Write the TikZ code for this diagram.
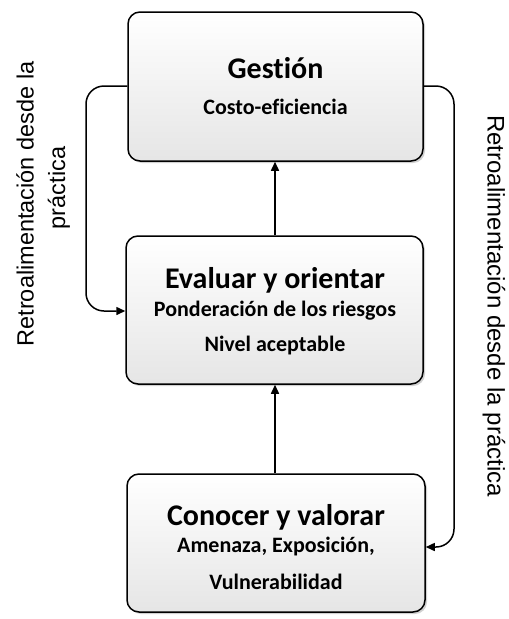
\documentclass[tikz,border=0pt]{standalone}
\usepackage{fontspec}
\setmainfont[Ligatures=NoCommon]{Carlito}
\newfontfamily\notefont{Liberation Sans}
\usetikzlibrary{arrows.meta,shadows}
\begin{document}
\begin{tikzpicture}[x=1pt,y=-1pt,
  stage/.style={draw=black,line width=1.5pt,rounded corners=12pt,
    top color=white,bottom color=black!10,
    drop shadow={shadow xshift=2pt,shadow yshift=-2pt,opacity=0.18,fill=black},
    inner sep=0pt},
  headline/.style={font=\bfseries\fontsize{30}{34}\selectfont,inner sep=0pt},
  detail/.style={font=\bfseries\fontsize{22}{26}\selectfont,inner sep=0pt},
  sidenote/.style={font=\notefont\fontsize{23.5}{30}\selectfont,inner sep=0pt,align=center},
  link/.style={line width=1.5pt,-{Triangle[length=9pt,width=8pt]}}]
\useasboundingbox (0,0) rectangle (509,619);

% stage boxes
\node[stage,minimum width=295pt,minimum height=149pt] (gest) at (275.5,86.5) {};
\node[stage,minimum width=297pt,minimum height=148pt] (eval) at (274.5,310) {};
\node[stage,minimum width=298pt,minimum height=138pt] (cono) at (276,543) {};

% box texts
\node[headline] (gestT) at (275.5,68) {Gestión};
\node[detail] (gestS) at (275.5,107) {Costo-eficiencia};
\node[headline] (evalT) at (275,280) {Evaluar y orientar};
\node[detail] (evalS1) at (275,311) {Ponderación de los riesgos};
\node[detail] (evalS2) at (275,346) {Nivel aceptable};
\node[headline] (conoT) at (276,517) {Conocer y valorar};
\node[detail] (conoS1) at (276,547) {Amenaza, Exposición,};
\node[detail] (conoS2) at (276,582) {Vulnerabilidad};

% upward flow
\draw[link] (cono.north -| 275,0) -- (eval.south -| 275,0);
\draw[link] (eval.north -| 275,0) -- (gest.south -| 275,0);

% feedback loops
\coordinate (lc) at (86,0);
\coordinate (rc) at (454,0);
\draw[link,rounded corners=18pt] (gest.west |- 0,86) -| (lc |- 0,190) |- (eval.west |- 0,311);
\draw[link,rounded corners=18pt] (gest.east |- 0,86) -| (rc |- 0,300) |- (cono.east |- 0,547);

% side labels
\node[sidenote,rotate=90] (leftNoteA) at (25,204) {Retroalimentación desde la};
\node[sidenote,font=\notefont\fontsize{23.5}{30}\selectfont,rotate=90] (leftNoteB) at (59,188) {práctica};
\node[sidenote,font=\notefont\fontsize{24}{30}\selectfont,rotate=-90] (rightNote) at (494,306) {Retroalimentación desde la práctica};
\end{tikzpicture}
\end{document}
